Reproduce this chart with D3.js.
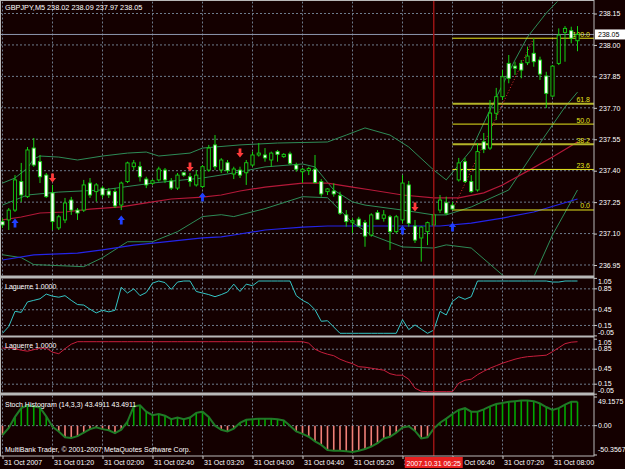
<!DOCTYPE html>
<html>
<head>
<meta charset="utf-8">
<script src="https://cdn.jsdelivr.net/npm/d3@7"></script>
<style>
  body { margin: 0; background: #140000; }
  svg text { font-family: "Liberation Sans", Arial, sans-serif; }
</style>
</head>
<body>
<div id="chart"></div>
<script>
// GBPJPY M5, 31 Oct 2007, bars from 00:40 to 08:20
const opens  = [237.157,237.165,237.212,237.348,237.276,237.508,237.443,237.379,237.294,237.127,237.165,237.260,237.212,237.212,237.341,237.300,237.317,237.303,237.300,237.236,237.348,237.419,237.419,237.360,237.340,237.356,237.403,237.351,237.317,237.390,237.371,237.332,237.324,237.403,237.523,237.403,237.438,237.384,237.403,237.390,237.427,237.475,237.475,237.451,237.491,237.467,237.480,237.427,237.395,237.400,237.407,237.348,237.300,237.303,237.281,237.189,237.154,237.169,237.152,237.093,237.200,237.173,237.180,237.109,237.165,237.332,237.136,237.079,237.109,237.141,237.212,237.247,237.236,237.356,237.443,237.348,237.308,237.538,237.508,237.674,237.753,237.912,237.899,237.912,237.915,237.960,237.928,237.852,237.756,237.912,238.060,238.068,238.020];
const highs  = [237.174,237.222,237.379,237.437,237.513,237.556,237.475,237.389,237.332,237.189,237.270,237.275,237.222,237.356,237.365,237.341,237.327,237.317,237.317,237.348,237.443,237.451,237.443,237.371,237.360,237.419,237.413,237.365,237.389,237.395,237.389,237.403,237.427,237.523,237.570,237.460,237.451,237.419,237.419,237.451,237.491,237.532,237.508,237.491,237.499,237.484,237.491,237.438,237.413,237.419,237.475,237.360,237.317,237.340,237.300,237.212,237.174,237.180,237.165,237.197,237.212,237.212,237.189,237.189,237.379,237.351,237.165,237.136,237.157,237.197,237.284,237.276,237.251,237.461,237.461,237.379,237.532,237.580,237.737,237.795,237.880,237.952,237.920,237.928,237.992,238.032,237.944,237.872,237.904,238.079,238.090,238.087,238.090];
const lows   = [237.127,237.117,237.203,237.251,237.270,237.418,237.341,237.270,237.117,237.117,237.150,237.189,237.165,237.203,237.270,237.252,237.270,237.270,237.222,237.212,237.341,237.403,237.348,237.317,237.332,237.348,237.341,237.308,237.308,237.371,237.324,237.324,237.317,237.395,237.403,237.389,237.389,237.360,237.365,237.332,237.419,237.467,237.443,237.419,237.443,237.461,237.427,237.395,237.341,237.379,237.340,237.276,237.284,237.276,237.189,237.133,237.103,237.133,237.037,237.085,237.165,237.157,237.022,237.101,237.149,237.133,237.055,236.966,237.045,237.133,237.198,237.189,237.212,237.348,237.341,237.294,237.300,237.484,237.499,237.642,237.737,237.817,237.857,237.841,237.904,237.896,237.833,237.699,237.753,237.904,237.920,238.008,237.970];
const closes = [237.141,237.212,237.356,237.284,237.499,237.427,237.371,237.276,237.157,237.180,237.246,237.212,237.198,237.332,237.284,237.332,237.284,237.284,237.232,237.341,237.437,237.437,237.371,237.332,237.352,237.408,237.356,237.317,237.379,237.379,237.348,237.379,237.419,237.508,237.419,237.451,237.400,237.408,237.379,237.438,237.475,237.484,237.461,237.484,237.478,237.478,237.435,237.407,237.407,237.410,237.343,237.289,237.313,237.289,237.197,237.157,237.161,237.136,237.088,237.189,237.168,237.189,237.109,237.180,237.341,237.149,237.069,237.131,237.152,237.189,237.260,237.197,237.217,237.437,237.348,237.300,237.491,237.502,237.675,237.753,237.848,237.841,237.889,237.880,237.947,237.920,237.861,237.769,237.899,238.047,238.079,238.032,238.050];

// indicator lines: [bar, price]
const bandUpper = [[0,237.341],[2,237.365],[4,237.413],[5,237.456],[6,237.470],[9,237.465],[12,237.451],[16,237.470],[20,237.484],[23,237.489],[25,237.470],[30,237.484],[32,237.508],[38,237.523],[44,237.532],[52,237.537],[55,237.570],[58,237.604],[62,237.570],[65,237.513],[69,237.403],[71,237.356],[75,237.499],[78,237.690],[82,237.928],[84,238.038],[87,238.152],[89,238.214],[92,238.31]];
const bandMid   = [[0,237.236],[4,237.284],[9,237.298],[16,237.308],[24,237.341],[32,237.365],[37,237.389],[42,237.418],[48,237.432],[50,237.418],[53,237.308],[56,237.251],[58,237.236],[64,237.212],[69,237.189],[71,237.189],[75,237.227],[81,237.308],[86,237.532],[90,237.704],[92,237.775]];
const bandLower = [[0,236.999],[3,236.985],[5,236.952],[13,236.942],[16,236.985],[20,237.061],[24,237.061],[28,237.109],[32,237.181],[35,237.190],[37,237.181],[42,237.219],[48,237.276],[52,237.271],[56,237.152],[59,237.093],[64,237.036],[69,237.031],[71,237.046],[75,237.031],[80,236.902],[83,236.83],[85,236.893],[88,237.093],[92,237.308]];
const maRed  = [[0,237.165],[3,237.179],[6,237.198],[10,237.203],[14,237.217],[19,237.227],[23,237.246],[27,237.265],[32,237.274],[35,237.284],[38,237.303],[42,237.322],[48,237.341],[52,237.341],[56,237.322],[59,237.308],[64,237.284],[69,237.270],[73,237.270],[77,237.294],[80,237.332],[84,237.398],[88,237.465],[92,237.537]];
const maBlue = [[0,236.974],[5,236.998],[12,237.007],[16,237.022],[21,237.045],[26,237.060],[32,237.079],[35,237.084],[37,237.093],[42,237.117],[48,237.131],[52,237.136],[58,237.136],[64,237.136],[70,237.136],[75,237.150],[80,237.174],[85,237.203],[92,237.265]];

const arrowsUp   = [[2,237.150],[19,237.165],[32,237.274],[64,237.117],[72,237.131]];
const arrowsDown = [[8,237.365],[30,237.418],[38,237.484],[66,237.227]];

const fibLevels = [0, 23.6, 38.2, 50.0, 61.8, 100.0];
const fibLow = 237.2125, fibHigh = 238.032, fibFrom = 72, fibTo = 85;
const bidPrice = 238.05;

const lagFast = [0.0,0.13,0.42,0.40,0.60,0.63,0.66,0.75,0.71,0.69,0.72,0.63,0.55,0.54,0.46,0.39,0.44,0.41,0.44,0.88,0.77,0.85,0.72,0.78,0.96,1.0,0.97,0.84,0.98,1.0,1.0,0.80,0.77,0.74,0.70,0.74,0.79,0.94,0.80,0.94,0.91,1.0,1.0,1.0,1.0,1.0,1.0,0.72,0.63,0.57,0.45,0.23,0.24,0.12,0.0,0.0,0.0,0.0,0.0,0.0,0.0,0.0,0.0,0.0,0.26,0.07,0.16,0.08,0.0,0.06,0.42,0.35,0.61,0.70,0.65,0.70,1.0,1.0,1.0,1.0,1.0,1.0,1.0,1.0,1.0,1.0,1.0,1.0,0.98,0.98,1.0,1.0,1.0];
const lagSlow = [0.87,0.88,0.86,0.83,0.81,0.84,0.87,0.87,0.79,0.76,0.86,0.95,1.0,1.0,1.0,1.0,1.0,1.0,1.0,1.0,1.0,1.0,1.0,1.0,1.0,1.0,1.0,1.0,1.0,1.0,1.0,1.0,1.0,1.0,1.0,1.0,1.0,1.0,1.0,1.0,1.0,1.0,1.0,1.0,1.0,1.0,1.0,1.0,1.0,0.97,0.85,0.79,0.75,0.72,0.65,0.60,0.56,0.50,0.49,0.47,0.45,0.43,0.36,0.33,0.33,0.25,0.07,0.01,0.0,0.0,0.0,0.0,0.0,0.17,0.23,0.25,0.34,0.41,0.47,0.52,0.57,0.61,0.65,0.68,0.70,0.71,0.72,0.73,0.80,0.88,0.96,0.99,1.0];
const lagLevels = [0.85, 0.45, 0.15];
const stoch = [-16,-4,15,30,35,33,31,16,-2,-10,-20,-21,-18,-12,-6,-3,-6,-8,-13,-7,7,33,35,24,18,20,17,11,14,11,14,22,24,15,0,-7,-10,-5,5,10,11,12,12,12,11,9,0,-10,-14,-19,-27,-33,-42,-43,-43,-44,-45,-43,-40,-36,-30,-22,-19,-12,-3,-1,-9,-22,-20,-5,5,12,20,27,30,24,24,28,33,37,39,41,42,43,43,42,38,32,27,30,36,41,41];

const priceTicks = [238.15, 238.00, 237.85, 237.70, 237.55, 237.40, 237.25, 237.10, 236.95];
const tickBars = [0, 8, 16, 24, 32, 40, 48, 56, 64, 72, 80, 88];
const tickLabels = ["31 Oct 2007","31 Oct 01:20","31 Oct 02:00","31 Oct 02:40","31 Oct 03:20","31 Oct 04:00","31 Oct 04:40","31 Oct 05:20","31 Oct 06:00","31 Oct 06:40","31 Oct 07:20","31 Oct 08:00"];
const cursorBar = 69;
const cursorLabel = "2007.10.31 06:25";

const W = 625, H = 469, R = 594;
const bg = '#140000', grid = '#6d7b8c', candleCol = '#14d214';

const svg = d3.select('#chart').append('svg').attr('width', W).attr('height', H);
svg.append('rect').attr('width', W).attr('height', H).attr('fill', bg);

const x = d3.scaleLinear().domain([0, 88]).range([2.5, 552.5]);
const y = d3.scaleLinear().domain([236.95, 238.15]).range([265, 13.5]);
const yLag1 = d3.scaleLinear().domain([0, 1]).range([333.3, 281]);
const yLag2 = d3.scaleLinear().domain([0, 1]).range([391.7, 341.7]);
const ySto = d3.scaleLinear().domain([-50.3567, 49.1575]).range([455, 397]);

const panels = [
  {id: 'p0', top: 1.5, bottom: 275.5},
  {id: 'p1', top: 278.5, bottom: 335.5},
  {id: 'p2', top: 337.5, bottom: 392.5},
  {id: 'p3', top: 395.5, bottom: 456}
];
const defs = svg.append('defs');
panels.forEach(p => {
  defs.append('clipPath').attr('id', 'clip-' + p.id)
    .append('rect').attr('x', 0).attr('y', p.top).attr('width', R).attr('height', p.bottom - p.top);
});
const layer = id => svg.append('g').attr('clip-path', `url(#clip-${id})`);

// grid
panels.forEach(p => {
  const g = layer(p.id);
  g.selectAll('line.v').data(tickBars).enter().append('line')
    .attr('x1', d => x(d)).attr('x2', d => x(d))
    .attr('y1', p.top).attr('y2', p.bottom)
    .attr('stroke', grid).attr('stroke-dasharray', '2,2');
});
const hGrid = (id, vals, sc) => layer(id).selectAll(null).data(vals).enter().append('line')
  .attr('x1', 0).attr('x2', R).attr('y1', d => sc(d)).attr('y2', d => sc(d))
  .attr('stroke', grid).attr('stroke-dasharray', '2,2');
hGrid('p0', priceTicks, y);
hGrid('p1', lagLevels, yLag1);
hGrid('p2', lagLevels, yLag2);
hGrid('p3', [0], ySto);

// main chart
const main = layer('p0');
const line = d3.line().x(d => x(d[0])).y(d => y(d[1]));
main.append('line').attr('x1', 0).attr('x2', R).attr('y1', y(bidPrice)).attr('y2', y(bidPrice))
  .attr('stroke', '#8e96ae');
[bandUpper, bandMid, bandLower].forEach(b =>
  main.append('path').attr('d', line(b)).attr('fill', 'none').attr('stroke', '#2e8b57'));
main.append('path').attr('d', line(maRed)).attr('fill', 'none').attr('stroke', '#b41838').attr('stroke-width', 1.2);
main.append('path').attr('d', line(maBlue)).attr('fill', 'none').attr('stroke', '#2424e8').attr('stroke-width', 1.2);

// fibonacci
const fib = main.append('g');
fibLevels.forEach(l => {
  const p = fibLow + (fibHigh - fibLow) * l / 100;
  const thick = (l === 38.2 || l === 61.8);
  fib.append('line').attr('x1', x(fibFrom)).attr('x2', R).attr('y1', y(p)).attr('y2', y(p))
    .attr('stroke', thick ? '#b4b428' : '#e6e61e').attr('stroke-width', thick ? 2 : 1);
  fib.append('text').attr('x', 590).attr('y', y(p) - 1.5).attr('text-anchor', 'end')
    .attr('font-size', 7).attr('fill', '#e6e61e').text(l.toFixed(1));
});
fib.append('line').attr('x1', x(fibFrom)).attr('y1', y(fibLow)).attr('x2', x(fibTo)).attr('y2', y(fibHigh))
  .attr('stroke', '#e03030').attr('stroke-dasharray', '1,2');

// candles
const bars = d3.range(opens.length);
const cg = main.append('g');
cg.selectAll('line.w').data(bars).enter().append('line')
  .attr('x1', i => x(i)).attr('x2', i => x(i))
  .attr('y1', i => y(highs[i])).attr('y2', i => y(lows[i]))
  .attr('stroke', candleCol);
cg.selectAll('rect.b').data(bars).enter().append('rect')
  .attr('x', i => x(i) - 1.6).attr('width', 3.2)
  .attr('y', i => y(Math.max(opens[i], closes[i])))
  .attr('height', i => Math.max(0.8, Math.abs(y(opens[i]) - y(closes[i]))))
  .attr('fill', i => closes[i] < opens[i] ? '#ffffff' : bg)
  .attr('stroke', candleCol).attr('stroke-width', 0.9);

// signal arrows
const upPath = 'M0,-4.5 L3.6,0 L1.4,0 L1.4,4.5 L-1.4,4.5 L-1.4,0 L-3.6,0 Z';
main.selectAll(null).data(arrowsUp).enter().append('path')
  .attr('d', upPath).attr('fill', '#2040ff')
  .attr('transform', d => `translate(${x(d[0])},${y(d[1])})`);
main.selectAll(null).data(arrowsDown).enter().append('path')
  .attr('d', upPath).attr('fill', '#ff3a3a')
  .attr('transform', d => `translate(${x(d[0])},${y(d[1])}) rotate(180)`);

// laguerre panels
layer('p1').append('path').attr('d', d3.line().x((d, i) => x(i)).y(d => yLag1(d))(lagFast))
  .attr('fill', 'none').attr('stroke', '#34c4c4');
layer('p2').append('path').attr('d', d3.line().x((d, i) => x(i)).y(d => yLag2(d))(lagSlow))
  .attr('fill', 'none').attr('stroke', '#c81e3c');

// stoch histogram
const st = layer('p3');
st.selectAll(null).data(stoch).enter().append('line')
  .attr('x1', (d, i) => x(i)).attr('x2', (d, i) => x(i))
  .attr('y1', ySto(0)).attr('y2', d => ySto(d))
  .attr('stroke', d => d >= 0 ? '#00a800' : '#f08078').attr('stroke-width', 1.6);
st.append('path').attr('d', d3.line().x((d, i) => x(i)).y(d => ySto(d))(stoch))
  .attr('fill', 'none').attr('stroke', '#1f7a26').attr('stroke-width', 2);

// cursor line
svg.append('line').attr('x1', x(cursorBar)).attr('x2', x(cursorBar)).attr('y1', 0).attr('y2', 456)
  .attr('stroke', '#a01414').attr('stroke-width', 1.4);

// separators and frame
[[275.5, 278.5], [335.5, 337.5], [392.5, 395.5]].forEach(s =>
  svg.append('rect').attr('x', 0).attr('y', s[0]).attr('width', R).attr('height', s[1] - s[0]).attr('fill', '#b8b8b8'));
svg.append('rect').attr('x', 0.5).attr('y', 0.5).attr('width', R - 0.5).attr('height', 455.5)
  .attr('fill', 'none').attr('stroke', '#b8b8b8');

// axes
const styleAxis = g => {
  g.select('.domain').remove();
  g.selectAll('line').attr('stroke', '#c8c8c8');
  g.selectAll('text').attr('fill', '#ffffff').attr('font-size', 7);
};
svg.append('g').attr('transform', `translate(${R},0)`)
  .call(d3.axisRight(y).tickValues(priceTicks).tickSize(3).tickPadding(2).tickFormat(d3.format('.2f')))
  .call(styleAxis);

const sideLabels = (vals, sc, texts, offs) => {
  const g = svg.append('g');
  vals.forEach((v, k) => {
    g.append('line').attr('x1', R).attr('x2', R + 3).attr('y1', sc(v)).attr('y2', sc(v)).attr('stroke', '#c8c8c8');
    g.append('text').attr('x', R + 4).attr('y', sc(v) + offs[k]).attr('dy', '0.32em')
      .attr('font-size', 7).attr('fill', '#ffffff').text(texts[k]);
  });
};
sideLabels([1.05, 0.85, 0.45, 0.15, -0.05], yLag1, ['1.05', '0.85', '0.45', '0.15', '-0.05'], [3.5, 0, 0, 0, -3.5]);
sideLabels([1.05, 0.85, 0.45, 0.15, -0.05], yLag2, ['1.05', '0.85', '0.45', '0.15', '-0.05'], [3.5, 0, 0, 0, -3.5]);
sideLabels([49.1575, 0, -50.3567], ySto, ['49.1575', '0.00', '-50.3567'], [4.5, 0, -5]);

// bid label
svg.append('rect').attr('x', R + 1).attr('y', y(bidPrice) - 5).attr('width', 30).attr('height', 10).attr('fill', '#ffffff');
svg.append('text').attr('x', R + 4).attr('y', y(bidPrice)).attr('dy', '0.35em').attr('font-size', 7).attr('fill', '#000').text(bidPrice.toFixed(2));

// time axis; the cursor box hides part of the two labels next to it
const cx = x(cursorBar);
const boxL = cx - 29, boxR = cx + 29;
const visibleLabel = (d, i) => {
  const t = tickLabels[i];
  if (x(d) + 1 < boxL && x(d) + 40 > boxL) return t.slice(0, 1);
  if (x(d) > boxL && x(d) < boxR) return t.slice(3);
  return t;
};
svg.append('g').attr('transform', 'translate(0,456)')
  .call(d3.axisBottom(x).tickValues(tickBars).tickSize(3).tickPadding(1).tickFormat(visibleLabel))
  .call(styleAxis)
  .call(g => g.selectAll('text').attr('text-anchor', 'start')
    .attr('dx', d => (x(d) > boxL && x(d) < boxR) ? boxR - x(d) + 1 : 1));
svg.append('rect').attr('x', boxL).attr('y', 457).attr('width', boxR - boxL).attr('height', 11).attr('fill', '#e82020');
svg.append('text').attr('x', cx).attr('y', 465.5).attr('text-anchor', 'middle').attr('font-size', 7).attr('fill', '#ffffff').text(cursorLabel);

// titles
const title = (t, yy, fs) => svg.append('text').attr('x', 5).attr('y', yy).attr('font-size', fs || 7).attr('fill', '#ffffff').text(t);
title('GBPJPY,M5  238.02 238.09 237.97 238.05', 10, 7.3);
title('Laguerre 1.0000', 289);
title('Laguerre 1.0000', 348);
title('Stoch Histogram (14,3,3) 43.4911 43.4911', 406.5);
title('MultiBank Trader, © 2001-2007 MetaQuotes Software Corp.', 452);
</script>
</body>
</html>
